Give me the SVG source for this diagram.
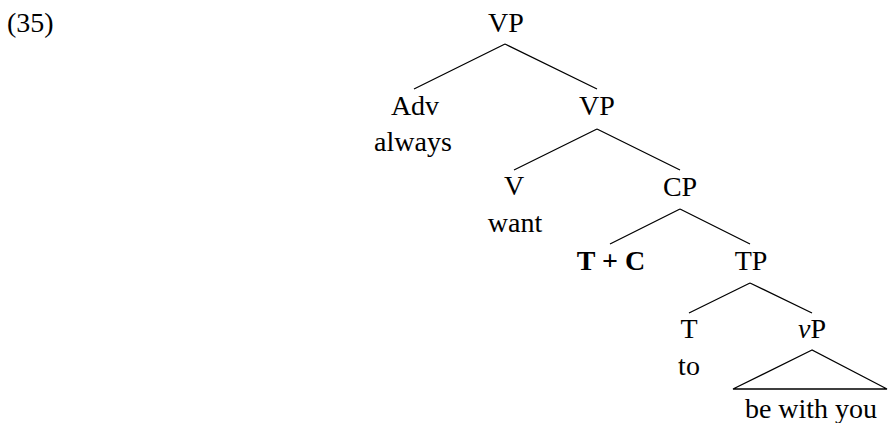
<svg xmlns="http://www.w3.org/2000/svg" width="888" height="423" viewBox="0 0 888 423">
<style>
text{font-family:"Liberation Serif","Times New Roman",serif;font-size:28px;fill:#000;text-anchor:middle}
.b{font-weight:bold}
.l{stroke:#000;stroke-width:1.3;fill:none}
</style>
<rect width="888" height="423" fill="#fff"/>
<text x="7" y="32" style="text-anchor:start">(35)</text>
<g id="connectors">
<path class="l" d="M505,44 L414,89 M505,44 L597,89"/>
<path class="l" d="M597,129 L514,170 M597,129 L680,170"/>
<path class="l" d="M680,209 L610,244 M680,209 L750,244"/>
<path class="l" d="M750,283 L689,313 M750,283 L812,313"/>
<path class="l" d="M812,350 L733,389 L887,389 Z"/>
</g>
<g id="n-vp1"><text x="506" y="32">VP</text></g>
<g id="n-adv"><text x="415" y="115">Adv</text><text x="413" y="151">always</text></g>
<g id="n-vp2"><text x="597" y="115">VP</text></g>
<g id="n-v"><text x="514" y="195">V</text><text x="515" y="232">want</text></g>
<g id="n-cp"><text x="680" y="196">CP</text></g>
<g id="n-tc"><text class="b" x="611" y="270">T + C</text></g>
<g id="n-tp"><text x="751" y="270">TP</text></g>
<g id="n-t"><text x="689" y="338">T</text><text x="689" y="375">to</text></g>
<g id="n-vp3"><text x="812" y="338"><tspan font-style="italic">v</tspan>P</text></g>
<g id="n-be"><text x="811" y="418">be with you</text></g>
</svg>
